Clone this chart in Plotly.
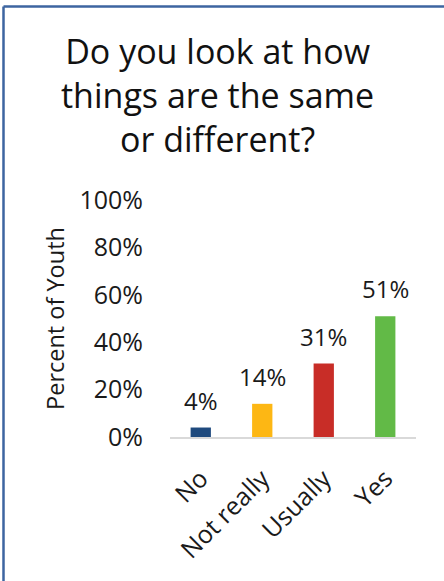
import plotly.graph_objects as go

# Survey responses and share of youth giving each answer
categories = ["No", "Not really", "Usually", "Yes"]
values = [0.04, 0.14, 0.31, 0.51]
labels = ["4%", "14%", "31%", "51%"]
colors = ["#1f4a7e", "#fdb714", "#c82d27", "#62ba47"]

tick_vals = [0, 0.2, 0.4, 0.6, 0.8, 1.0]
tick_text = ["0%", "20%", "40%", "60%", "80%", "100%"]

FONT = "Open Sans"

fig = go.Figure(
    go.Bar(
        x=categories,
        y=values,
        marker=dict(color=colors, line=dict(width=0)),
        width=0.33,
        hoverinfo="skip",
    )
)

# value labels above each bar
for cat, val, lab in zip(categories, values, labels):
    fig.add_annotation(
        x=cat, y=val, text=lab, showarrow=False,
        yanchor="bottom", yshift=9,
        font=dict(family=FONT, size=24, color="#1a1a1a"),
    )

# title (three lines, centred)
fig.add_annotation(
    xref="paper", yref="paper",
    x=(217 - 170) / 246, y=(437 - 26) / 237,
    xanchor="center", yanchor="top",
    text="Do you look at how<br>things are the same<br>or different?",
    showarrow=False, align="center",
    font=dict(family=FONT, size=34, color="#111111"),
)

# chart frame (top and left edges)
frame = dict(color="#3d65a0", width=2.5)
fig.add_shape(type="line", xref="paper", yref="paper",
              x0=(3.5 - 170) / 246, x1=(450 - 170) / 246,
              y0=(437 - 6.5) / 237, y1=(437 - 6.5) / 237, line=frame)
fig.add_shape(type="line", xref="paper", yref="paper",
              x0=(3.5 - 170) / 246, x1=(3.5 - 170) / 246,
              y0=(437 - 6.5) / 237, y1=(437 - 590) / 237, line=frame)

fig.update_layout(
    width=444, height=581,
    margin=dict(l=170, r=28, t=200, b=144),
    paper_bgcolor="white", plot_bgcolor="white",
    showlegend=False,
    font=dict(family=FONT, color="#1a1a1a"),
    xaxis=dict(
        tickangle=-45,
        tickfont=dict(family=FONT, size=25, color="#1a1a1a"),
        showline=True, linecolor="#d9d9d9", linewidth=2,
        showgrid=False, ticks="", ticklabelstandoff=15,
    ),
    yaxis=dict(
        range=[0, 1.0],
        tickvals=tick_vals, ticktext=tick_text,
        tickfont=dict(family=FONT, size=25, color="#1a1a1a"),
        showgrid=False, showline=False, zeroline=False, ticks="",
        ticklabelstandoff=26,
        title=dict(text="Percent of Youth", standoff=8,
                   font=dict(family=FONT, size=23.5, color="#1a1a1a")),
    ),
)

fig.write_html("out.html")
